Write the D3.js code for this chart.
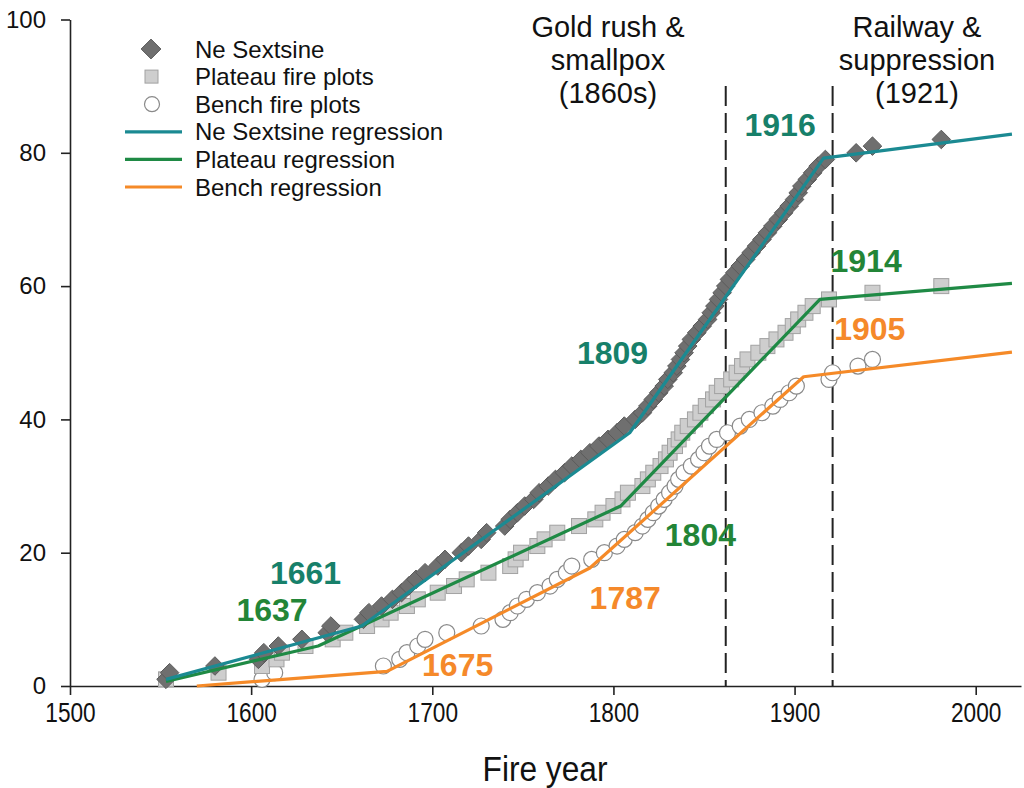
<!DOCTYPE html>
<html><head><meta charset="utf-8">
<script src="https://cdn.jsdelivr.net/npm/d3@7"></script>
<style>
html,body{margin:0;padding:0;background:#fff;}
svg{display:block;font-family:"Liberation Sans",Arial,sans-serif;}
</style></head>
<body>
<svg id="chart" width="1024" height="788"></svg>
<script>
// ---------- data ----------
const neSextsine = [[1553,1],[1555,2],[1580,3],[1604,4],[1607,5],[1615,6],[1628,7],[1642,8],[1644,9],[1662,10],[1665,11],[1672,12],[1678,13],[1683,14],[1687,15],[1691,16],[1696,17],[1703,18],[1707,19],[1716,20],[1720,21],[1727,22],[1730,23],[1740,24],[1743,25],[1747,26],[1751,27],[1756,28],[1759,29],[1764,30],[1768,31],[1773,32],[1777,33],[1782,34],[1787,35],[1792,36],[1797,37],[1802,38],[1806,39],[1812,40],[1816,41],[1819,42],[1822,43],[1825,44],[1828,45],[1830,46],[1833,47],[1835,48],[1837,49],[1839,50],[1841,51],[1843,52],[1846,53],[1849,54],[1852,55],[1854,56],[1856,57],[1858,58],[1860,59],[1862,60],[1864,61],[1867,62],[1870,63],[1873,64],[1876,65],[1879,66],[1882,67],[1885,68],[1888,69],[1891,70],[1894,71],[1897,72],[1900,73],[1902,74],[1904,75],[1907,76],[1910,77],[1913,78],[1917,79],[1934,80],[1943,81],[1981,82]];
const plateau = [[1553,1],[1582,2],[1606,3],[1614,4],[1617,5],[1630,6],[1645,7],[1652,8],[1664,9],[1672,10],[1677,11],[1686,12],[1692,13],[1703,14],[1712,15],[1719,16],[1731,17],[1743,18],[1746,19],[1749,20],[1758,21],[1762,22],[1769,23],[1781,24],[1790,25],[1794,26],[1800,27],[1805,28],[1808,29],[1816,30],[1819,31],[1822,32],[1826,33],[1829,34],[1831,35],[1834,36],[1836,37],[1838,38],[1841,39],[1845,40],[1848,41],[1851,42],[1855,43],[1857,44],[1860,45],[1865,46],[1868,47],[1871,48],[1874,49],[1880,50],[1885,51],[1890,52],[1895,53],[1899,54],[1902,55],[1906,56],[1910,57],[1919,58],[1943,59],[1981,60]];
const bench = [[1606,1],[1613,2],[1673,3],[1682,4],[1686,5],[1692,6],[1696,7],[1708,8],[1727,9],[1739,10],[1743,11],[1747,12],[1752,13],[1758,14],[1765,15],[1769,16],[1774,17],[1777,18],[1788,19],[1795,20],[1802,21],[1806,22],[1812,23],[1816,24],[1819,25],[1822,26],[1825,27],[1828,28],[1831,29],[1834,30],[1836,31],[1839,32],[1843,33],[1847,34],[1850,35],[1853,36],[1857,37],[1863,38],[1870,39],[1875,40],[1882,41],[1888,42],[1892,43],[1897,44],[1901,45],[1919,46],[1921,47],[1935,48],[1943,49]];

const neRegression = [[1553,1],[1661,9],[1809,38],[1916,79.2],[2020,82.8]];
const plateauRegression = [[1553,0.7],[1637,6],[1804,27],[1914,58],[2020,60.4]];
const benchRegression = [[1570,0],[1675,2.2],[1787,17.7],[1905,46.4],[2020,50.1]];

const breakLabels = [
  {text:"1661", year:1630, value:17.1, kind:"ne"},
  {text:"1637", year:1611.5, value:11.5, kind:"pl"},
  {text:"1809", year:1799.5, value:50.1, kind:"ne"},
  {text:"1804", year:1848, value:22.7, kind:"pl"},
  {text:"1787", year:1806.5, value:13.35, kind:"be"},
  {text:"1675", year:1714, value:3.3, kind:"be"},
  {text:"1916", year:1892, value:84.3, kind:"ne"},
  {text:"1914", year:1939.5, value:63.8, kind:"pl"},
  {text:"1905", year:1941.5, value:53.7, kind:"be"}
];
const eventYears = [1862, 1921];
const eventText = [["Gold rush &","smallpox","(1860s)"],["Railway &","suppression","(1921)"]];
const xTicks = [1500,1600,1700,1800,1900,2000];
const yTicks = [0,20,40,60,80,100];
const legendLabels = ["Ne Sextsine","Plateau fire plots","Bench fire plots","Ne Sextsine regression","Plateau regression","Bench regression"];

// ---------- drawing ----------
const svg = d3.select("#chart");
const x = d3.scaleLinear().domain([1500,2025]).range([70,1021]);
const y = d3.scaleLinear().domain([0,100]).range([686,19.5]);

const colNeLine = "#1b8a92", colPlLine = "#1f8a45", colBeLine = "#f58a28";
const colLab = {ne:"#17806a", pl:"#238537", be:"#f5892a"};

// axes
const yAxis = svg.append("g").attr("transform","translate(70,0)")
  .call(d3.axisLeft(y).tickValues(yTicks).tickSize(9).tickSizeOuter(0).tickPadding(15));
yAxis.attr("font-size",24).attr("font-family","'Liberation Sans',Arial,sans-serif");
const xAxis = svg.append("g").attr("transform","translate(0,686)")
  .call(d3.axisBottom(x).tickValues(xTicks).tickFormat(d3.format("d")).tickSize(9).tickSizeOuter(0).tickPadding(8));
xAxis.attr("font-size",27).attr("font-family","'Liberation Sans',Arial,sans-serif");
xAxis.selectAll("text").attr("transform","scale(0.84,1)");
[yAxis,xAxis].forEach(a=>{
  a.selectAll("path,line").attr("stroke","#222").attr("stroke-width",1.6);
  a.selectAll("text").attr("fill","#111");
});

// dashed event lines
svg.selectAll(".ev").data(eventYears).enter().append("line")
  .attr("x1",d=>x(d)).attr("x2",d=>x(d)).attr("y1",86).attr("y2",686)
  .attr("stroke","#222").attr("stroke-width",2).attr("stroke-dasharray","20,7");

// event text
eventText.forEach((lines,i)=>{
  const cx = i===0 ? 608 : 917;
  lines.forEach((t,j)=>{
    svg.append("text").attr("x",cx).attr("y",27+j*33).attr("dy","0.36em")
      .attr("text-anchor","middle").attr("font-size",29).attr("fill","#111").text(t);
  });
});

// markers
svg.append("g").selectAll("circle").data(bench).enter().append("circle")
  .attr("cx",d=>x(d[0])).attr("cy",d=>y(d[1])).attr("r",8)
  .attr("fill","#fff").attr("stroke","#8a8a8a").attr("stroke-width",1.2);
svg.append("g").selectAll("rect").data(plateau).enter().append("rect")
  .attr("x",d=>x(d[0])-7.5).attr("y",d=>y(d[1])-7.5).attr("width",15).attr("height",15)
  .attr("fill","#cecece").attr("stroke","#a2a2a2").attr("stroke-width",1);
const diamond = d3.symbol().type(d3.symbolDiamond2).size(220);
svg.append("g").selectAll("path").data(neSextsine).enter().append("path")
  .attr("d",diamond).attr("transform",d=>`translate(${x(d[0])},${y(d[1])})`)
  .attr("fill","#6f6f6f").attr("stroke","#5b5b5b").attr("stroke-width",1);

// regression lines
const line = d3.line().x(d=>x(d[0])).y(d=>y(d[1]));
[[benchRegression,colBeLine],[plateauRegression,colPlLine],[neRegression,colNeLine]].forEach(([d,c])=>{
  svg.append("path").datum(d).attr("d",line).attr("fill","none").attr("stroke",c)
    .attr("stroke-width",3.2).attr("stroke-linejoin","round");
});

// break labels
svg.selectAll(".bl").data(breakLabels).enter().append("text")
  .attr("x",d=>x(d.year)).attr("y",d=>y(d.value)).attr("dy","0.36em")
  .attr("text-anchor","middle").attr("font-size",32).attr("font-weight","bold")
  .attr("fill",d=>colLab[d.kind]).text(d=>d.text);

// legend
const lg = svg.append("g");
const rowY = i => 49 + i*27.6;
lg.append("path").attr("d",d3.symbol().type(d3.symbolDiamond2).size(250))
  .attr("transform",`translate(151,${rowY(0)})`).attr("fill","#6f6f6f").attr("stroke","#5b5b5b");
lg.append("rect").attr("x",145).attr("y",rowY(1)-6.5).attr("width",13).attr("height",13)
  .attr("fill","#cecece").attr("stroke","#a2a2a2");
lg.append("circle").attr("cx",152).attr("cy",rowY(2)).attr("r",7.5)
  .attr("fill","#fff").attr("stroke","#8a8a8a").attr("stroke-width",1.2);
[colNeLine,colPlLine,colBeLine].forEach((c,i)=>{
  lg.append("line").attr("x1",125).attr("x2",182).attr("y1",rowY(3+i)).attr("y2",rowY(3+i))
    .attr("stroke",c).attr("stroke-width",3.2);
});
legendLabels.forEach((t,i)=>{
  lg.append("text").attr("x",195).attr("y",rowY(i)).attr("dy","0.36em")
    .attr("font-size",24).attr("fill","#111").text(t);
});

// axis title
svg.append("text").attr("transform","translate(545,768) scale(0.88,1)").attr("dy","0.36em")
  .attr("text-anchor","middle").attr("font-size",36).attr("fill","#111").text("Fire year");
</script>
</body></html>
